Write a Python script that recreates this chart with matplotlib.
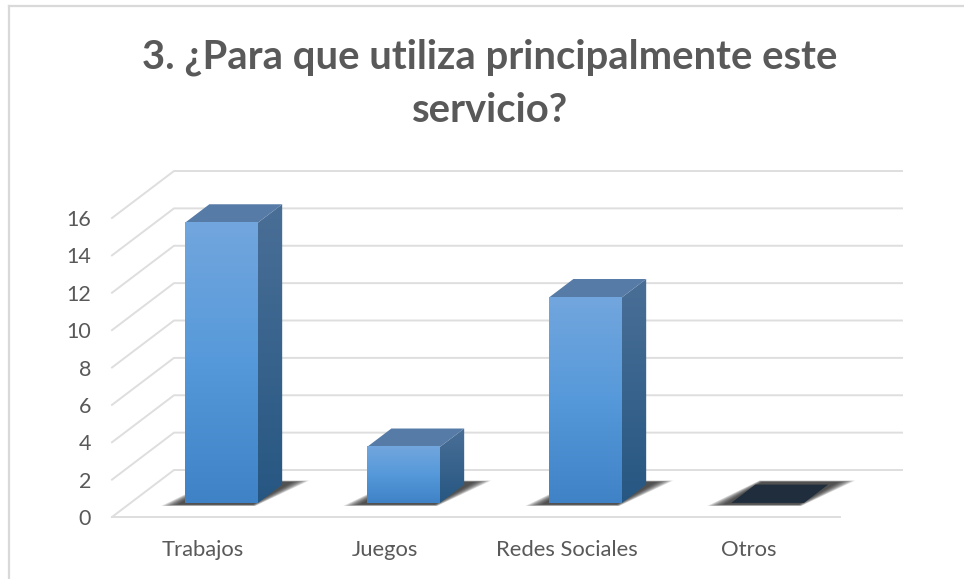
import numpy as np
import matplotlib
matplotlib.use('Agg')
import matplotlib.pyplot as plt
from matplotlib.colors import LinearSegmentedColormap
from matplotlib.lines import Line2D
from matplotlib.patches import Polygon

plt.rcParams['font.family'] = ['Lato', 'DejaVu Sans']

categories = ['Trabajos', 'Juegos', 'Redes Sociales', 'Otros']
values = [15, 3, 11, 0]
yticks = [0, 2, 4, 6, 8, 10, 12, 14, 16]
title = '3. ¿Para que utiliza principalmente este\nservicio?'

W, H = 964, 579
TEXT = '#595959'
GRID = '#dedede'
BAR_W = 0.4
# depth of the floor in data units, and where the bars sit on it
DEPTH_X = 62 / 182
DEPTH_Y = 47 / 18.69
BAR_D0 = 0.30
BAR_D1 = 0.69

front_cmap = LinearSegmentedColormap.from_list('front', ['#72a6de', '#5699da', '#3f82c6'])
side_cmap = LinearSegmentedColormap.from_list('side', ['#4a6f97', '#265782'])


def pt(x, v, d):
    # oblique projection: d=0 is the front plane, d=1 the back wall
    return (x + d * DEPTH_X, v + d * DEPTH_Y)


fig = plt.figure(figsize=(W / 100, H / 100), dpi=100)
ax = fig.add_axes([112 / W, (H - 517) / H, 728 / W, 299 / H])
ax.set_xlim(-0.5, 3.5)
ax.set_ylim(0, 16)
for s in ax.spines.values():
    s.set_visible(False)
ax.patch.set_visible(False)

ax.set_xticks(range(len(categories)))
ax.set_xticklabels(categories)
ax.set_yticks(yticks)
ax.tick_params(axis='x', length=0, pad=16.5, labelsize=15.8, labelcolor=TEXT)
ax.tick_params(axis='y', length=0, pad=15, labelsize=15.5, labelcolor=TEXT)

# walls: diagonal on the side, long line on the back
right_end = 3.5 + DEPTH_X
for t in yticks:
    xs = [pt(-0.5, t, 0), pt(-0.5, t, 1), (right_end, t + DEPTH_Y)]
    ax.add_line(Line2D(*zip(*xs), color=GRID, lw=1.4, clip_on=False, zorder=1))
ax.add_line(Line2D([-0.5, 3.5], [0, 0], color=GRID, lw=1.4, clip_on=False, zorder=1))

for i, v in enumerate(values):
    x0 = i - BAR_W / 2
    x1 = i + BAR_W / 2

    # soft shadow on the floor, stacked so the ends fade out
    n = 12
    for k in range(n):
        grow = (n - k) * 0.0075
        soft = (n - k) * 0.003
        sh = [pt(x0 - 0.02 - grow, 0, BAR_D0 - 0.03 - soft),
              pt(x1 - 0.02 + grow * 0.3, 0, BAR_D0 - 0.03 - soft),
              pt(x1 + 0.03 + grow, 0, BAR_D1 + 0.05 + soft),
              pt(x0 + 0.02 - grow * 0.3, 0, BAR_D1 + 0.05 + soft)]
        ax.add_patch(Polygon(sh, closed=True, fc='#1c1c1c', ec='none', alpha=0.11,
                             clip_on=False, zorder=2))

    # top face
    top = [pt(x0, v, BAR_D0), pt(x1, v, BAR_D0), pt(x1, v, BAR_D1), pt(x0, v, BAR_D1)]
    top_color = '#567ba6' if v > 0 else '#202d3d'
    ax.add_patch(Polygon(top, closed=True, fc=top_color, ec='none', clip_on=False, zorder=4))

    if v == 0:
        continue

    # front face
    lo = pt(x0, 0, BAR_D0)
    hi = pt(x1, v, BAR_D0)
    grad = np.linspace(0, 1, 256).reshape(-1, 1)
    im = ax.imshow(grad, cmap=front_cmap, aspect='auto', origin='upper',
                   extent=[lo[0], hi[0], lo[1], hi[1]], zorder=4)
    im.set_clip_on(False)

    # side face, darker towards the lower right
    sx = [pt(x1, 0, BAR_D0), pt(x1, 0, BAR_D1), pt(x1, v, BAR_D1), pt(x1, v, BAR_D0)]
    side = Polygon(sx, closed=True, fc='none', ec='none', clip_on=False, zorder=3)
    ax.add_patch(side)
    im2 = ax.imshow(grad, cmap=side_cmap, aspect='auto', origin='upper',
                    extent=[sx[0][0], sx[1][0], sx[0][1], sx[2][1]], zorder=3)
    im2.set_clip_box(fig.bbox)
    im2.set_clip_path(side)

ax.set_xlim(-0.5, 3.5)
ax.set_ylim(0, 16)

fig.text(490 / W, (H - 57) / H, title.split('\n')[0], ha='center', va='center',
         fontsize=28.8, fontweight='bold', color=TEXT)
fig.text(490 / W, (H - 110) / H, title.split('\n')[1], ha='center', va='center',
         fontsize=28.8, fontweight='bold', color=TEXT)

# chart frame
fig.add_artist(Line2D([9 / W, 9 / W], [0, (H - 6) / H], color='#d9d9d9', lw=1.6))
fig.add_artist(Line2D([9 / W, 1], [(H - 6) / H, (H - 6) / H], color='#d9d9d9', lw=1.6))

fig.savefig('out.png', dpi=100)
